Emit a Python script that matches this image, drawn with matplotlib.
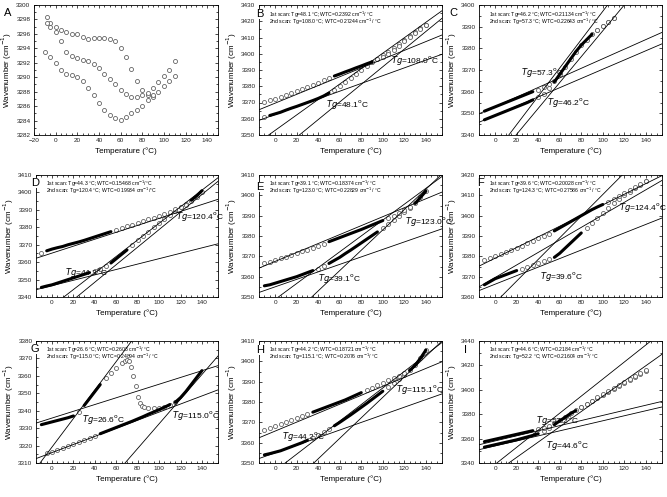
import matplotlib
matplotlib.use("Agg")
import matplotlib.pyplot as plt
from matplotlib.ticker import MultipleLocator

W, H = 667, 497

# -----------------------------
# Data
# -----------------------------
temps = [-10, -5, 0, 5, 10, 15, 20, 25, 30, 35, 40, 45, 50, 55, 60, 65, 70,
         75, 80, 85, 90, 95, 100, 105, 110, 115, 120, 125, 130, 135, 140]

# panel A: three curves, open circles only
a_top_x = [-8, -5, 0, 5, 10, 15, 20, 25, 30, 35, 40, 45, 50, 55, 60, 65, 70, 75, 80, 85, 90]
a_top_y = [3298.3, 3297.5, 3297.0, 3296.6, 3296.2, 3296.0, 3296.0, 3295.6, 3295.3, 3295.4,
           3295.5, 3295.5, 3295.3, 3295.0, 3294.0, 3292.8, 3291.2, 3289.5, 3288.2, 3287.6, 3287.2]
a_mid_x = [-8, -5, 0, 5, 10, 15, 20, 25, 30, 35, 40, 45, 50, 55, 60, 65, 70, 75, 80, 85,
           90, 95, 100, 105, 110]
a_mid_y = [3297.5, 3297.0, 3296.2, 3295.0, 3293.5, 3293.0, 3292.6, 3292.4, 3292.2, 3291.8,
           3291.3, 3290.5, 3289.8, 3289.0, 3288.3, 3287.7, 3287.3, 3287.2, 3287.5, 3287.8,
           3288.5, 3289.3, 3290.2, 3291.0, 3292.3]
a_low_x = [-10, -5, 0, 5, 10, 15, 20, 25, 30, 35, 40, 45, 50, 55, 60, 65, 70, 75, 80, 85,
           90, 95, 100, 105, 110]
a_low_y = [3293.5, 3292.8, 3292.0, 3291.0, 3290.5, 3290.3, 3290.0, 3289.5, 3288.5, 3287.5,
           3286.5, 3285.5, 3284.8, 3284.3, 3284.1, 3284.5, 3285.0, 3285.5, 3286.0, 3286.8,
           3287.5, 3288.0, 3288.8, 3289.5, 3290.2]

b_lo_y = [3361.0, 3362.0, 3363.0, 3364.0, 3365.3, 3366.5, 3367.6, 3368.8, 3370.0, 3371.2,
          3372.5, 3374.0, 3375.8, 3377.8, 3380.0, 3382.5, 3385.0, 3387.5, 3390.0, 3392.5,
          3395.0, 3397.0, 3399.0, 3401.0, 3403.3, 3405.8, 3408.3, 3410.8, 3413.3, 3415.7, 3418.0]
b_up_y = [3370.5, 3371.3, 3372.2, 3373.3, 3374.5, 3375.8, 3377.0, 3378.3, 3379.6, 3381.0,
          3382.3, 3383.6, 3385.0, 3386.3, 3387.5, 3388.8, 3390.0, 3391.3, 3392.5, 3393.8,
          3395.0, 3396.5, 3398.0, 3400.0, 3402.5, 3405.0, 3408.0, 3410.5, 3413.0, 3415.5, 3418.0]

c_lo_y = [3347.0, 3348.0, 3349.0, 3350.0, 3351.0, 3352.0, 3353.0, 3354.0, 3355.0, 3356.2,
          3357.5, 3359.0, 3361.5, 3364.5, 3368.0, 3371.5, 3375.0, 3378.5, 3381.5, 3384.0,
          3386.5, 3388.5, 3390.5, 3392.3, 3394.0]
c_up_y = [3351.0, 3352.0, 3353.0, 3354.0, 3355.0, 3356.0, 3357.0, 3358.0, 3359.0, 3360.0,
          3361.0, 3362.0, 3363.5, 3365.0, 3368.0, 3371.5, 3375.0, 3378.5, 3381.5, 3384.0,
          3386.5, 3388.5, 3390.5, 3392.3, 3394.0]

d_lo_y = [3345.5, 3346.3, 3347.0, 3348.0, 3349.0, 3350.0, 3351.0, 3352.0, 3353.0, 3354.0,
          3355.0, 3356.3, 3357.8, 3359.5, 3362.0, 3364.5, 3367.0, 3370.0, 3372.5, 3375.0,
          3377.5, 3380.0, 3382.5, 3385.0, 3387.3, 3389.5, 3391.5, 3393.5, 3395.5, 3398.0, 3401.0]
d_up_y = [3365.5, 3366.5, 3367.5, 3368.3, 3369.0, 3370.0, 3370.8, 3371.6, 3372.5, 3373.5,
          3374.5, 3375.5, 3376.5, 3377.5, 3378.5, 3379.5, 3380.5, 3381.5, 3382.5, 3383.5,
          3384.5, 3385.5, 3386.5, 3387.8, 3389.0, 3390.3, 3391.5, 3393.0, 3395.0, 3397.5, 3400.5]

e_lo_y = [3355.5, 3356.0, 3356.8, 3357.6, 3358.4, 3359.2, 3360.0, 3361.0, 3362.0, 3363.0,
          3364.0, 3365.2, 3366.5, 3368.0, 3369.5, 3371.3, 3373.0, 3374.8, 3376.6, 3378.4,
          3380.2, 3382.0, 3384.0, 3386.0, 3388.0, 3390.0, 3392.0, 3394.0, 3396.0, 3399.0, 3402.0]
e_up_y = [3366.5, 3367.3, 3368.2, 3369.0, 3369.8, 3370.6, 3371.5, 3372.4, 3373.3, 3374.2,
          3375.2, 3376.2, 3377.2, 3378.2, 3379.2, 3380.2, 3381.2, 3382.2, 3383.2, 3384.3,
          3385.4, 3386.5, 3387.6, 3388.8, 3390.0, 3391.3, 3392.6, 3394.2, 3396.0, 3399.0, 3402.0]

f_lo_y = [3366.0, 3367.5, 3369.0, 3370.0, 3371.0, 3372.0, 3373.0, 3374.0, 3374.8, 3375.6,
          3376.5, 3377.5, 3378.5, 3379.5, 3381.5, 3384.0, 3386.5, 3389.0, 3391.5, 3394.0,
          3396.5, 3399.0, 3401.5, 3404.0, 3406.0, 3408.0, 3410.0, 3411.8, 3413.5, 3415.3, 3417.0]
f_up_y = [3378.0, 3379.0, 3380.0, 3381.0, 3382.0, 3383.0, 3384.0, 3385.2, 3386.4, 3387.6,
          3388.8, 3390.0, 3391.2, 3392.5, 3394.0, 3395.5, 3397.0, 3398.5, 3400.0, 3401.5,
          3403.0, 3404.3, 3405.5, 3406.8, 3408.2, 3409.7, 3411.2, 3412.6, 3414.0, 3415.5, 3417.0]

g_up_x = [-10, -5, 0, 5, 10, 15, 20, 25, 30, 35, 40, 45, 50, 55, 60, 65, 68, 70, 72, 74,
          76, 78, 80, 82, 84, 86, 90, 95, 100, 105, 110, 115, 120, 125, 130, 135, 140]
g_up_y = [3332.0, 3332.8, 3333.6, 3334.4, 3335.2, 3336.0, 3337.0, 3339.0, 3343.0, 3347.0,
          3351.0, 3355.0, 3358.5, 3361.5, 3364.5, 3367.3, 3368.8, 3369.3, 3368.5, 3365.0,
          3360.0, 3354.0, 3348.0, 3344.5, 3342.8, 3342.0, 3341.5, 3341.4, 3341.6, 3342.0,
          3343.0, 3344.8, 3347.5, 3351.0, 3355.0, 3359.0, 3363.0]
g_lo_x = [-5, 0, 5, 10, 15, 20, 25, 30, 35, 40, 45, 50, 55, 60, 65, 70, 75, 80, 85, 90,
          95, 100, 105, 110, 115]
g_lo_y = [3315.5, 3316.5, 3317.6, 3318.7, 3319.8, 3320.9, 3322.0, 3323.2, 3324.4, 3325.6,
          3326.8, 3328.0, 3329.2, 3330.4, 3331.6, 3332.8, 3334.0, 3335.3, 3336.6, 3338.0,
          3339.3, 3340.6, 3342.0, 3343.5, 3345.0]

h_lo_y = [3354.0, 3354.6, 3355.3, 3356.0, 3357.0, 3358.0, 3359.0, 3360.0, 3361.2, 3362.5,
          3363.8, 3365.2, 3366.7, 3368.3, 3370.0, 3371.8, 3373.6, 3375.5, 3377.4, 3379.3,
          3381.3, 3383.3, 3385.3, 3387.3, 3389.3, 3391.3, 3393.3, 3395.5, 3398.0, 3401.5, 3405.5]
h_up_y = [3366.0, 3367.0, 3368.0, 3369.0, 3370.0, 3371.0, 3372.0, 3373.0, 3374.0, 3375.0,
          3376.0, 3377.0, 3378.0, 3379.0, 3380.0, 3381.0, 3382.2, 3383.4, 3384.6, 3385.8,
          3387.0, 3388.2, 3389.4, 3390.6, 3391.8, 3393.0, 3394.3, 3395.7, 3398.0, 3401.5, 3405.5]

i_lo_y = [3353.0, 3354.0, 3355.0, 3356.0, 3357.0, 3358.0, 3359.0, 3360.2, 3361.4, 3362.6,
          3364.0, 3366.0, 3368.5, 3371.5, 3374.5, 3377.5, 3380.5, 3383.0, 3385.5, 3388.0,
          3390.5, 3393.0, 3395.5, 3398.0, 3400.5, 3403.0, 3405.5, 3408.0, 3410.5, 3413.0, 3415.5]
i_up_y = [3357.5, 3358.5, 3359.5, 3360.5, 3361.5, 3362.5, 3363.5, 3364.5, 3365.5, 3366.5,
          3367.7, 3369.0, 3370.5, 3372.5, 3375.0, 3377.8, 3380.6, 3383.3, 3386.0, 3388.6,
          3391.2, 3393.8, 3396.3, 3398.8, 3401.3, 3403.8, 3406.3, 3408.8, 3411.3, 3413.8, 3416.5]

# temperature ranges drawn as solid (dense) points
b_lo_solid = [(-5, 50)]
b_up_solid = [(55, 90)]
c_lo_solid = [(-10, 35), (55, 90)]
c_up_solid = [(-10, 35)]
d_lo_solid = [(-10, 35), (55, 70), (130, 140)]
d_up_solid = [(-5, 55)]
e_lo_solid = [(-10, 35), (50, 95), (130, 140)]
e_up_solid = [(50, 100)]
f_lo_solid = [(-10, 20), (55, 80)]
f_up_solid = [(55, 100)]
g_up_solid = [(-10, 20), (30, 45), (115, 140)]
g_lo_solid = [(45, 110)]
h_lo_solid = [(-10, 30), (55, 100), (125, 140)]
h_up_solid = [(35, 80)]
i_lo_solid = [(-10, 40), (55, 75)]
i_up_solid = [(-10, 35)]

# fitted straight lines: slope (cm-1/degC), intercept at 0 degC
b_slopes = [0.2392, 0.2706, 0.475, 0.542]
b_inters = [3362.6, 3369.6, 3352.85, 3337.8]
c_slopes = [0.213, 0.221, 0.654, 0.597]
c_inters = [3349.06, 3353.1, 3331.7, 3328.4]
d_slopes = [0.155, 0.199, 0.475, 0.503]
d_inters = [3346.5, 3365.2, 3334.8, 3328.4]
e_slopes = [0.184, 0.22, 0.39, 0.50]
e_inters = [3355.0, 3367.5, 3348.83, 3333.0]
f_slopes = [0.21, 0.262, 0.308, 0.532]
f_inters = [3366.3, 3379.1, 3369.6, 3357.2]
g_slopes = [0.194, 0.232, 0.818, 0.707]
g_inters = [3335.8, 3316.0, 3319.2, 3261.8]
h_slopes = [0.187, 0.22, 0.407, 0.504]
h_inters = [3355.0, 3365.7, 3346.2, 3331.9]
i_slopes = [0.209, 0.206, 0.699, 0.626]
i_inters = [3358.1, 3354.0, 3338.9, 3332.1]

scan_text = {
    "B": ["1st scan: Tg=48.1 °C; WTC=0.2392 cm$^{-1}$/ °C", "2nd scan: Tg=108.0 °C; WTC=0.27244 cm$^{-1}$/ °C"],
    "C": ["1st scan: Tg=46.2 °C; WTC=0.21134 cm$^{-1}$/ °C", "2nd scan: Tg=57.3 °C; WTC=0.22643 cm$^{-1}$/ °C"],
    "D": ["1st scan: Tg=44.3 °C; WTC=0.15468 cm$^{-1}$/°C", "2nd scan: Tg=120.4 °C; WTC=0.19934 cm$^{-1}$/°C"],
    "E": ["1st scan: Tg=39.1 °C; WTC=0.18374 cm$^{-1}$/ °C", "2nd scan: Tg=123.0 °C; WTC=0.22829 cm$^{-1}$/ °C"],
    "F": ["1st scan: Tg=39.6 °C; WTC=0.20028 cm$^{-1}$/ °C", "2nd scan: Tg=124.3 °C; WTC=0.27586 cm$^{-1}$/ °C"],
    "G": ["1st scan: Tg=26.6 °C; WTC=0.2603 cm$^{-1}$/ °C", "2nd scan: Tg=115.0 °C; WTC=0.24894 cm$^{-1}$/ °C"],
    "H": ["1st scan: Tg=44.2 °C; WTC=0.18721 cm$^{-1}$/ °C", "2nd scan: Tg=115.1 °C; WTC=0.2076 cm$^{-1}$/ °C"],
    "I": ["1st scan: Tg=44.6 °C; WTC=0.2184 cm$^{-1}$/ °C", "2nd scan: Tg=52.2 °C; WTC=0.21604 cm$^{-1}$/ °C"],
}

# Tg labels: (text, x, y)
b_tg = [("108.0", 108, 3396), ("48.1", 47, 3368.5)]
c_tg = [("57.3", 24, 3368.8), ("46.2", 48.5, 3354.8)]
d_tg = [("120.4", 116, 3386.4), ("44.3", 12.5, 3353.8)]
e_tg = [("123.0", 121, 3387), ("39.1", 40, 3359)]
f_tg = [("124.4", 115, 3404), ("39.6", 42, 3370)]
g_tg = [("26.6", 28, 3335.1), ("115.0", 112, 3337)]
h_tg = [("115.1", 112, 3386), ("44.2", 6, 3363)]
i_tg = [("52.2", 37.5, 3375), ("44.6", 47, 3354)]

# -----------------------------
# Figure
# -----------------------------
fig = plt.figure(figsize=(W / 100, H / 100), dpi=100)
plt.rcParams["font.family"] = ["Liberation Sans", "DejaVu Sans"]


def make_axes(left, right, top, bottom):
    return fig.add_axes([left / W, 1 - bottom / H, (right - left) / W, (bottom - top) / H])


def style_axes(ax, xlim, ylim, ystep):
    ax.set_xlim(*xlim)
    ax.set_ylim(*ylim)
    ax.set_xticks(range(-20 if xlim[0] <= -20 else 0, 141, 20))
    ax.yaxis.set_major_locator(MultipleLocator(ystep))
    ax.xaxis.set_minor_locator(MultipleLocator(5))
    ax.yaxis.set_minor_locator(MultipleLocator(ystep / 2))
    ax.tick_params(which="both", direction="in", top=True, right=True,
                   labelsize=4.6, width=0.5, pad=2.5, labelcolor="#222222")
    ax.tick_params(which="major", length=2.5)
    ax.tick_params(which="minor", length=1.3)
    for s in ax.spines.values():
        s.set_linewidth(0.6)
    ax.set_xlabel("Temperature (°C)", fontsize=5.8, labelpad=2.5)
    ax.set_ylabel("Wavenumber (cm$^{-1}$)", fontsize=5.8, labelpad=1.5)


def draw_curve(ax, xs, ys, solid):
    ox = [x for x in xs if not any(a <= x <= b for a, b in solid)]
    oy = [y for x, y in zip(xs, ys) if not any(a <= x <= b for a, b in solid)]
    ax.plot(ox, oy, "o", mfc="white", mec="#555555", ms=2.9, mew=0.55, zorder=2)
    for a, b in solid:
        sx = [x for x in xs if a <= x <= b]
        sy = [y for x, y in zip(xs, ys) if a <= x <= b]
        ax.plot(sx, sy, "-", color="black", lw=2.2, solid_capstyle="round", zorder=3)


def draw_fits(ax, slopes, inters):
    x0, x1 = ax.get_xlim()
    for m, c in zip(slopes, inters):
        ax.plot([x0, x1], [c + m * x0, c + m * x1], color="black", lw=0.6, zorder=4)


def draw_labels(ax, key, tgs):
    t1, t2 = scan_text[key]
    ax.text(0.055, 0.925, t1, transform=ax.transAxes, fontsize=3.7, va="center")
    ax.text(0.055, 0.872, t2, transform=ax.transAxes, fontsize=3.7, va="center")
    for val, x, y in tgs:
        ax.text(x, y, "$Tg$=" + val + "$^{\\rm o}$C", fontsize=6, va="center", zorder=5)


cols = [(36, 218), (259, 442), (479, 662)]
rows = [(5, 135), (175, 297), (341, 463)]

# panel A
ax = make_axes(cols[0][0] - 2, cols[0][1], *rows[0])
style_axes(ax, (-20, 150), (3282, 3300), 2)
for xs, ys in [(a_top_x, a_top_y), (a_mid_x, a_mid_y), (a_low_x, a_low_y)]:
    draw_curve(ax, xs, ys, [])

panels = [
    ("B", 1, 0, (3350, 3430), 10, b_lo_y, b_lo_solid, b_up_y, b_up_solid, b_slopes, b_inters, b_tg),
    ("C", 2, 0, (3340, 3400), 10, c_lo_y, c_lo_solid, c_up_y, c_up_solid, c_slopes, c_inters, c_tg),
    ("D", 0, 1, (3340, 3410), 10, d_lo_y, d_lo_solid, d_up_y, d_up_solid, d_slopes, d_inters, d_tg),
    ("E", 1, 1, (3350, 3410), 10, e_lo_y, e_lo_solid, e_up_y, e_up_solid, e_slopes, e_inters, e_tg),
    ("F", 2, 1, (3360, 3420), 10, f_lo_y, f_lo_solid, f_up_y, f_up_solid, f_slopes, f_inters, f_tg),
    ("H", 1, 2, (3350, 3410), 10, h_lo_y, h_lo_solid, h_up_y, h_up_solid, h_slopes, h_inters, h_tg),
    ("I", 2, 2, (3340, 3440), 20, i_lo_y, i_lo_solid, i_up_y, i_up_solid, i_slopes, i_inters, i_tg),
]

for key, c, r, ylim, ystep, lo_y, lo_s, up_y, up_s, slopes, inters, tgs in panels:
    ax = make_axes(cols[c][0], cols[c][1], *rows[r])
    style_axes(ax, (-15, 155), ylim, ystep)
    draw_curve(ax, temps[:len(lo_y)], lo_y, lo_s)
    draw_curve(ax, temps[:len(up_y)], up_y, up_s)
    draw_fits(ax, slopes, inters)
    draw_labels(ax, key, tgs)

# panel G
ax = make_axes(cols[0][0], cols[0][1], *rows[2])
style_axes(ax, (-15, 155), (3310, 3380), 10)
draw_curve(ax, g_up_x, g_up_y, g_up_solid)
draw_curve(ax, g_lo_x, g_lo_y, g_lo_solid)
draw_fits(ax, g_slopes, g_inters)
draw_labels(ax, "G", g_tg)

# panel letters
letters = [("A", 8, 13), ("B", 260, 14), ("C", 453, 13), ("D", 35, 183), ("E", 260, 187),
           ("F", 481, 183), ("G", 35, 349), ("H", 260, 350), ("I", 466, 350)]
for txt, px, py in letters:
    fig.text(px / W, 1 - py / H, txt, fontsize=8, ha="center", va="center",
             bbox=dict(fc="white", ec="none", pad=0.3))

fig.savefig("out.png", dpi=100)
